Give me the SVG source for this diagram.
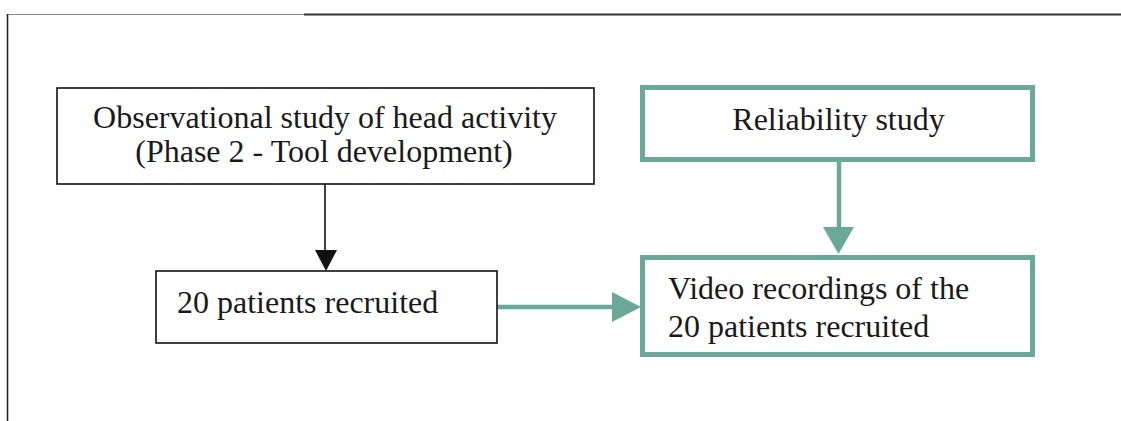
<svg xmlns="http://www.w3.org/2000/svg" width="1121" height="421" viewBox="0 0 1121 421">
<style>
text{font-family:"Liberation Serif","Times New Roman",serif;font-size:32px;fill:#1a1a1a}
.bk{fill:#fff;stroke:#111;stroke-width:1.6}
.gr{fill:#fff;stroke:#6aa995;stroke-width:5}
.gl{stroke:#6aa995;stroke-width:4.5;fill:none}
</style>
<rect width="1121" height="421" fill="#fff"/>
<g id="frame">
<line x1="7" y1="14.5" x2="304" y2="14.5" stroke="#888" stroke-width="1"/>
<line x1="304" y1="14.5" x2="1121" y2="14.5" stroke="#333" stroke-width="2"/>
<line x1="7.5" y1="14" x2="7.5" y2="421" stroke="#222" stroke-width="1.6"/>
</g>
<g id="connectors">
<line x1="325" y1="184" x2="325" y2="252" stroke="#111" stroke-width="1.6"/>
<polygon points="315,250 337,250 326,271" fill="#111"/>
<line class="gl" x1="839" y1="162" x2="839" y2="229"/>
<polygon points="823,227 854,227 838.5,254" fill="#6aa995"/>
<line class="gl" x1="497" y1="307" x2="614" y2="307"/>
<polygon points="612,292 612,322 641,307" fill="#6aa995"/>
</g>
<g id="node-observational">
<rect class="bk" x="57" y="88" width="537" height="96"/>
<text x="325" y="128" text-anchor="middle">Observational study of head activity</text>
<text x="324" y="162" text-anchor="middle">(Phase 2 - Tool development)</text>
</g>
<g id="node-patients">
<rect class="bk" x="156" y="271" width="341" height="72"/>
<text x="177" y="313">20 patients recruited</text>
</g>
<g id="node-reliability">
<rect class="gr" x="642.5" y="87.5" width="390" height="72"/>
<text x="838.5" y="130" text-anchor="middle">Reliability study</text>
</g>
<g id="node-video">
<rect class="gr" x="642.5" y="257.5" width="390" height="97"/>
<text x="668" y="299">Video recordings of the</text>
<text x="668" y="337">20 patients recruited</text>
</g>
</svg>
